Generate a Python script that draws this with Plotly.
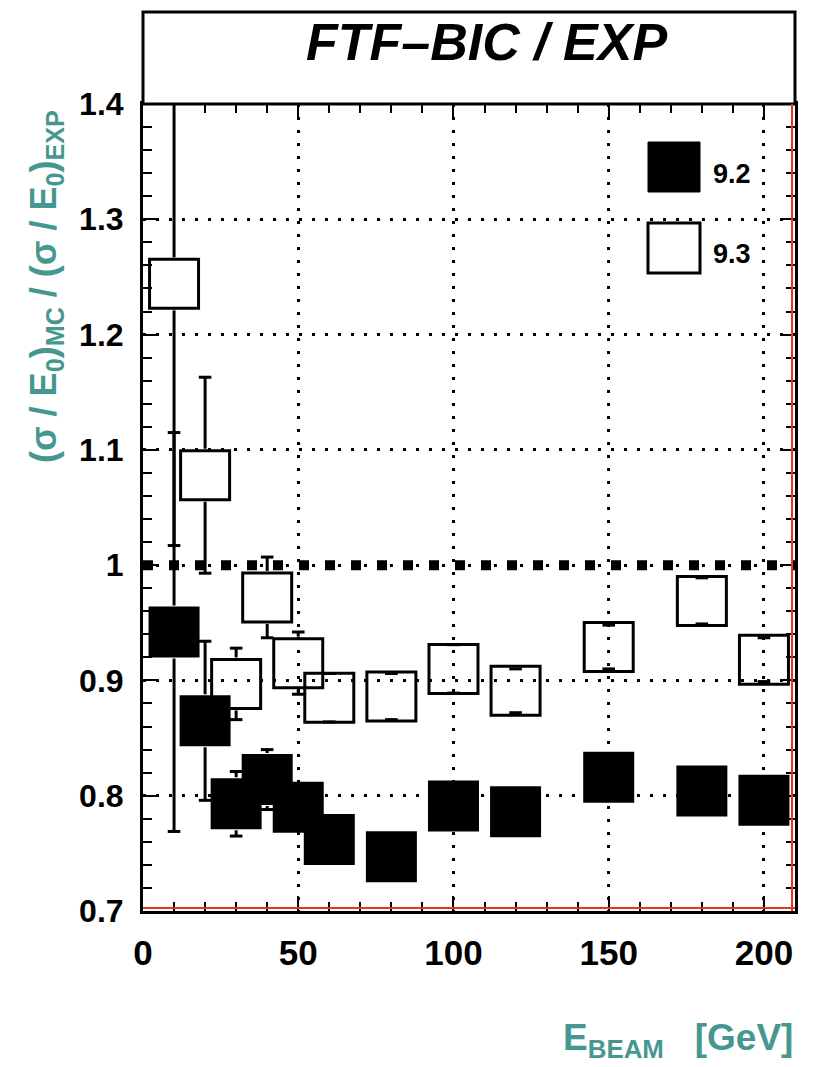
import plotly.graph_objects as go

# Beam energies (GeV) and energy-resolution ratios MC / data
energy = [10, 20, 30, 40, 50, 60, 80, 100, 120, 150, 180, 200]

ratio_92 = [0.942, 0.865, 0.793, 0.814, 0.790, 0.762, 0.747, 0.791, 0.786, 0.816, 0.804, 0.796]
err_92 = [0.173, 0.069, 0.028, 0.026, 0.015, 0.015, 0.015, 0.015, 0.015, 0.015, 0.015, 0.015]

ratio_93 = [1.244, 1.078, 0.897, 0.972, 0.915, 0.885, 0.886, 0.910, 0.891, 0.929, 0.969, 0.918]
err_93 = [0.227, 0.085, 0.031, 0.035, 0.027, 0.021, 0.020, 0.021, 0.019, 0.019, 0.020, 0.019]

series_names = ["9.2", "9.3"]
x_tick_vals = [0, 50, 100, 150, 200]
y_tick_vals = [0.7, 0.8, 0.9, 1.0, 1.1, 1.2, 1.3, 1.4]
reference_level = 1.0

# ---- page geometry -------------------------------------------------------
W, H = 818, 1067
ML, MR, MT, MB = 143, 23, 104, 156
PW, PH = W - ML - MR, H - MT - MB
X_RANGE = [0, 210]
Y_RANGE = [0.7, 1.4]

FONT = "Liberation Sans"
TEAL = "#46978f"
BOX = 51          # marker box size in px


def paper_x(px):
    return (px - ML) / PW


def paper_y(py):
    return 1 - (py - MT) / PH


# half box height in data units: error bars stop at the box edge
gap = (BOX / 2 + 1) * (Y_RANGE[1] - Y_RANGE[0]) / PH


def error_segments(xs, ys, es):
    sx, sy = [], []
    for x, y, e in zip(xs, ys, es):
        if e > gap:
            sx += [x, x, None, x, x, None]
            sy += [y + gap, y + e, None, y - e, y - gap, None]
    return sx, sy


def cap_points(xs, ys, es):
    cx, cy = [], []
    for x, y, e in zip(xs, ys, es):
        cx += [x, x]
        cy += [y + e, y - e]
    return cx, cy


fig = go.Figure()

for vals, errs, filled in [(ratio_92, err_92, True), (ratio_93, err_93, False)]:
    sx, sy = error_segments(energy, vals, errs)
    fig.add_trace(go.Scatter(x=sx, y=sy, mode="lines",
                             line=dict(color="black", width=3),
                             hoverinfo="skip", showlegend=False))
    cx, cy = cap_points(energy, vals, errs)
    fig.add_trace(go.Scatter(x=cx, y=cy, mode="markers",
                             marker=dict(symbol="line-ew", size=9,
                                         line=dict(color="black", width=3)),
                             hoverinfo="skip", showlegend=False))
    if filled:
        marker = dict(symbol="square", size=BOX, color="black",
                      line=dict(width=0))
    else:
        marker = dict(symbol="square-open", size=BOX - 2, color="black",
                      line=dict(color="black", width=3))
    fig.add_trace(go.Scatter(x=energy, y=vals, mode="markers", marker=marker,
                             showlegend=False))

axis_common = dict(
    showline=True, linecolor="black", linewidth=3, mirror="allticks",
    ticks="inside", ticklen=15, tickwidth=2, tickcolor="black",
    showgrid=True, gridcolor="black", gridwidth=2.5, griddash="3px,10px",
    zeroline=False,
)

fig.update_xaxes(
    range=X_RANGE, tickvals=x_tick_vals,
    tickfont=dict(family=FONT, size=35, color="black", weight="bold"),
    ticklabelstandoff=9,
    minor=dict(dtick=10, tick0=0, ticks="inside", ticklen=9, tickwidth=2,
               tickcolor="black", showgrid=False),
    **axis_common,
)
fig.update_yaxes(
    range=Y_RANGE, tickvals=y_tick_vals,
    ticktext=[f"{v:g}" for v in y_tick_vals],
    tickfont=dict(family=FONT, size=32, color="black", weight="bold"),
    ticklabelstandoff=10,
    minor=dict(dtick=0.02, tick0=0.7, ticks="inside", ticklen=9, tickwidth=2,
               tickcolor="black", showgrid=False),
    **axis_common,
)

shapes = [
    # header box
    dict(type="rect", xref="paper", yref="paper", x0=0, x1=1, y0=1,
         y1=paper_y(12), line=dict(color="black", width=3),
         fillcolor="white", layer="above"),
    # reference line at ratio 1
    dict(type="line", xref="x domain", yref="y", x0=0, x1=1,
         y0=reference_level, y1=reference_level,
         line=dict(color="black", width=10, dash="10px,16px"), layer="below"),
    # red inner frame on the bottom and right edges
    dict(type="line", xref="x domain", yref="y domain", x0=0, x1=1,
         ysizemode="pixel", yanchor=0, y0=3, y1=3,
         line=dict(color="#e8322a", width=2), layer="above"),
    dict(type="line", xref="x domain", yref="y domain", y0=0, y1=1,
         xsizemode="pixel", xanchor=1, x0=-3, x1=-3,
         line=dict(color="#e8322a", width=2), layer="above"),
]

# legend boxes
legend_cx = paper_x(674)
for (cy, filled) in [(167, True), (248, False)]:
    shapes.append(dict(
        type="rect", xref="paper", yref="paper",
        xsizemode="pixel", ysizemode="pixel",
        xanchor=legend_cx, yanchor=paper_y(cy),
        x0=-26, x1=26, y0=-25, y1=25,
        fillcolor="black" if filled else "white",
        line=dict(color="black", width=1 if filled else 3),
        layer="above",
    ))

annotations = [
    dict(text="FTF–BIC / EXP", xref="paper", yref="paper",
         x=paper_x(486), y=paper_y(42), xanchor="center", yanchor="middle",
         showarrow=False,
         font=dict(family=FONT, size=52, color="black", weight="bold",
                   style="italic")),
    dict(text="(σ / E<sub>0</sub>)<sub>MC</sub> / (σ / E<sub>0</sub>)<sub>EXP</sub>",
         xref="paper", yref="paper", x=paper_x(46), y=paper_y(287),
         xanchor="center", yanchor="middle", textangle=-90, showarrow=False,
         font=dict(family=FONT, size=36, color=TEAL, weight="bold")),
    dict(text="E<sub>BEAM</sub>\u00a0\u00a0\u00a0[GeV]",
         xref="paper", yref="paper", x=1.0, y=paper_y(1040),
         xanchor="right", yanchor="middle", showarrow=False,
         font=dict(family=FONT, size=37, color=TEAL, weight="bold")),
]
for name, cy in zip(series_names, [174, 254]):
    annotations.append(dict(
        text=name, xref="paper", yref="paper", x=paper_x(711), y=paper_y(cy),
        xanchor="left", yanchor="middle", showarrow=False,
        font=dict(family=FONT, size=27, color="black", weight="bold")))

fig.update_layout(
    width=W, height=H,
    margin=dict(l=ML, r=MR, t=MT, b=MB, pad=0),
    paper_bgcolor="white", plot_bgcolor="white",
    showlegend=False,
    shapes=shapes, annotations=annotations,
)

fig.write_html("out.html")
